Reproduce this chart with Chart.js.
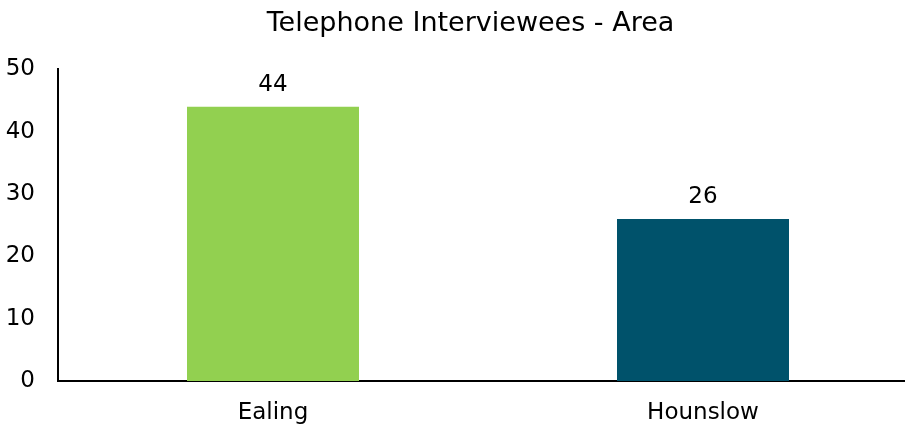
<!DOCTYPE html>
<html>
<head>
<meta charset="utf-8">
<script src="https://cdn.jsdelivr.net/npm/chart.js@4"></script>
<style>
  html, body { margin: 0; padding: 0; background: #fff; }
  #wrap { width: 905px; height: 429px; }
</style>
</head>
<body>
<div id="wrap"><canvas id="area-chart"></canvas></div>
<script>
const areas = ["Ealing", "Hounslow"];
const interviewees = [44, 26];
const barColors = ["#92d050", "#00526b"];
const yTicks = [0, 10, 20, 30, 40, 50];

const fontFamily = "'DejaVu Sans', sans-serif";

// writes each bar's value just above it
const valueLabels = {
    id: "valueLabels",
    afterDatasetsDraw(chart) {
        const ctx = chart.ctx;
        const meta = chart.getDatasetMeta(0);
        ctx.save();
        ctx.font = "23px " + fontFamily;
        ctx.fillStyle = "#000";
        ctx.textAlign = "center";
        ctx.textBaseline = "alphabetic";
        meta.data.forEach((bar, i) => {
            ctx.fillText(String(interviewees[i]), bar.x, bar.y - 16);
        });
        ctx.restore();
    },
};

// the category band runs a little past the right edge of the canvas,
// and the title sits a bit left of the plot centre
const layoutTweaks = {
    id: "layoutTweaks",
    afterLayout(chart) {
        const x = chart.scales.x;
        x.right += 13;
        x.width += 13;
        x.configure();
        const t = chart.titleBlock;
        if (t) {
            t.left -= 11;
            t.right -= 11;
        }
    },
};

const areaChart = document.querySelector("#area-chart").getContext("2d");

new Chart(areaChart, {
    type: "bar",
    data: {
        labels: areas,
        datasets: [
            {
                label: "Telephone Interviewees",
                data: interviewees,
                backgroundColor: barColors,
                borderWidth: 0,
                barPercentage: 0.8,
                categoryPercentage: 0.5,
            },
        ],
    },
    options: {
        responsive: true,
        maintainAspectRatio: false,
        animation: false,
        layout: {
            padding: 0,
        },
        scales: {
            y: {
                min: 0,
                max: 50,
                afterBuildTicks: (axis) => {
                    axis.ticks = yTicks.map((v) => ({ value: v }));
                },
                afterFit: (axis) => {
                    axis.width = 58;
                },
                grid: { display: false, drawTicks: false },
                border: { display: true, color: "#000", width: 2 },
                ticks: {
                    color: "#000",
                    padding: 23,
                    font: { family: fontFamily, size: 23 },
                },
            },
            x: {
                afterFit: (axis) => {
                    axis.height = 48;
                },
                grid: { display: false, drawTicks: false },
                border: { display: true, color: "#000", width: 2 },
                ticks: {
                    color: "#000",
                    padding: 18,
                    font: { family: fontFamily, size: 23 },
                },
            },
        },
        plugins: {
            legend: { display: false },
            tooltip: { enabled: false },
            title: {
                display: true,
                fullSize: false,
                text: "Telephone Interviewees - Area",
                color: "#000",
                font: { family: fontFamily, size: 27, weight: "normal" },
                padding: { top: 8, bottom: 29 },
            },
        },
    },
    plugins: [layoutTweaks, valueLabels],
});
</script>
</body>
</html>
